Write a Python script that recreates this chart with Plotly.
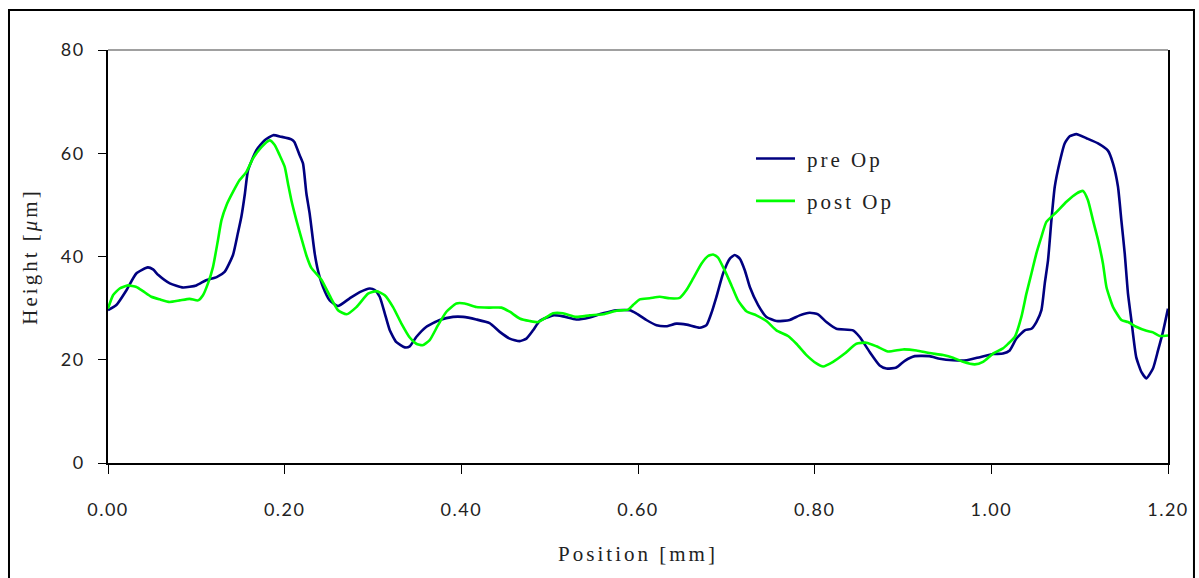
import plotly.graph_objects as go

pre_x = [0.0, 0.0095, 0.021, 0.032, 0.045, 0.051, 0.057, 0.070, 0.085, 0.100, 0.111, 0.123, 0.132,
         0.1415, 0.147, 0.151, 0.155, 0.1585, 0.168, 0.1774, 0.187, 0.196, 0.2076, 0.211, 0.217,
         0.2208, 0.2246, 0.2283, 0.234, 0.2377, 0.2434, 0.251, 0.2604, 0.2736, 0.285, 0.2963, 0.302,
         0.3076, 0.3133, 0.319, 0.3265, 0.336, 0.3416, 0.349, 0.3605, 0.3755, 0.3906, 0.402, 0.417,
         0.432, 0.4435, 0.4548, 0.466, 0.4737, 0.4812, 0.4887, 0.5038, 0.515, 0.530, 0.5453, 0.5604,
         0.5756, 0.5906, 0.598, 0.6095, 0.621, 0.632, 0.6435, 0.655, 0.670, 0.6775, 0.683, 0.6888,
         0.6963, 0.704, 0.7095, 0.7152, 0.721, 0.7266, 0.736, 0.7454, 0.7567, 0.7718, 0.783, 0.7944,
         0.8038, 0.8133, 0.8246, 0.8434, 0.851, 0.8623, 0.8736, 0.8812, 0.8925, 0.902, 0.9133, 0.930,
         0.9416, 0.9566, 0.972, 0.987, 1.002, 1.0132, 1.0208, 1.0284, 1.0378, 1.0454, 1.051, 1.0567,
         1.0605, 1.0642, 1.068, 1.0718, 1.0774, 1.083, 1.0887, 1.0963, 1.1077, 1.1208, 1.132, 1.1378,
         1.1434, 1.1472, 1.151, 1.1547, 1.1585, 1.164, 1.170, 1.1756, 1.183, 1.1887, 1.1943, 1.2]
pre_y = [29.6, 30.6, 33.5, 36.7, 37.9, 37.5, 36.4, 34.8, 34.0, 34.4, 35.4, 36.0, 37.0,
         40.3, 44.5, 47.7, 52.2, 56.7, 60.6, 62.5, 63.5, 63.2, 62.7, 62.2, 59.6,
         58.0, 52.2, 48.3, 40.6, 37.3, 34.1, 31.5, 30.4, 31.9, 33.1, 33.8, 33.5,
         32.2, 29.0, 25.7, 23.4, 22.4, 22.6, 24.4, 26.4, 27.7, 28.3, 28.3, 27.8,
         27.1, 25.4, 24.1, 23.6, 24.1, 25.7, 27.5, 28.6, 28.4, 27.8, 28.2, 29.0,
         29.6, 29.6, 29.0, 27.7, 26.7, 26.5, 27.0, 26.8, 26.2, 26.7, 29.0, 32.2,
         36.7, 39.6, 40.3, 39.6, 37.3, 34.1, 30.6, 28.3, 27.5, 27.7, 28.6, 29.1,
         28.8, 27.3, 26.0, 25.7, 24.4, 21.5, 18.9, 18.3, 18.5, 19.8, 20.7, 20.7,
         20.2, 19.9, 19.9, 20.5, 21.1, 21.2, 21.8, 24.1, 25.7, 26.0, 27.3, 29.6,
         34.8, 39.3, 47.0, 53.5, 58.3, 61.9, 63.3, 63.7, 62.9, 61.9, 60.5, 58.0,
         53.5, 47.0, 40.6, 32.8, 27.7, 20.5, 17.6, 16.4, 18.3, 21.8, 25.4, 29.9]

post_x = [0.0, 0.0057, 0.0132, 0.0226, 0.0322, 0.0396, 0.0491, 0.0585, 0.0698, 0.0812, 0.0925, 0.1019,
          0.1075, 0.1132, 0.1189, 0.1245, 0.1284, 0.134, 0.1415, 0.149, 0.1567, 0.1642, 0.1737, 0.183,
          0.1887, 0.1944, 0.200, 0.2038, 0.2076, 0.2133, 0.219, 0.2246, 0.2302, 0.2416, 0.251, 0.2604,
          0.270, 0.2812, 0.2944, 0.3039, 0.3133, 0.3227, 0.3322, 0.3416, 0.349, 0.356, 0.3642, 0.3736,
          0.3831, 0.3944, 0.4038, 0.417, 0.4321, 0.4454, 0.4548, 0.466, 0.4774, 0.4868, 0.5038, 0.515,
          0.530, 0.5453, 0.5604, 0.5756, 0.5887, 0.5944, 0.602, 0.6133, 0.6246, 0.636, 0.6473, 0.6548,
          0.6623, 0.6718, 0.6793, 0.685, 0.6906, 0.6982, 0.7058, 0.7132, 0.7227, 0.734, 0.7454, 0.7567,
          0.7698, 0.7793, 0.7907, 0.802, 0.8095, 0.8208, 0.834, 0.8472, 0.8586, 0.870, 0.883, 0.900,
          0.9152, 0.930, 0.9453, 0.9566, 0.968, 0.9812, 0.9906, 1.002, 1.0132, 1.019, 1.0265, 1.034,
          1.0397, 1.0454, 1.051, 1.0567, 1.0623, 1.0737, 1.085, 1.0963, 1.1038, 1.1094, 1.1151, 1.1208,
          1.1264, 1.1303, 1.1378, 1.1472, 1.1547, 1.164, 1.1756, 1.183, 1.1906, 1.2]
post_y = [29.9, 32.5, 33.8, 34.4, 34.1, 33.3, 32.2, 31.7, 31.2, 31.5, 31.8, 31.5,
          32.5, 34.8, 38.0, 43.2, 47.0, 49.9, 52.5, 54.8, 56.4, 59.0, 61.2, 62.5,
          61.6, 59.6, 57.4, 54.1, 50.9, 47.0, 43.5, 40.2, 37.8, 35.5, 32.4, 29.6,
          28.8, 30.2, 32.8, 33.3, 32.5, 30.2, 27.0, 24.3, 23.1, 22.8, 23.8, 26.7,
          29.3, 30.9, 30.9, 30.2, 30.1, 30.1, 29.3, 28.0, 27.5, 27.3, 29.0, 29.0,
          28.3, 28.6, 28.8, 29.5, 29.7, 30.6, 31.7, 31.9, 32.2, 31.9, 32.0, 33.5,
          35.7, 38.6, 40.1, 40.4, 39.8, 37.3, 34.4, 31.5, 29.4, 28.6, 27.5, 25.7,
          24.6, 23.1, 20.9, 19.3, 18.7, 19.6, 21.2, 23.1, 23.3, 22.6, 21.6, 22.0,
          21.8, 21.3, 20.9, 20.4, 19.6, 19.1, 19.6, 21.2, 22.2, 23.1, 24.4, 28.3,
          32.8, 36.7, 40.6, 43.8, 46.7, 48.6, 50.6, 52.2, 52.7, 50.9, 47.0, 43.2,
          38.6, 34.1, 30.2, 27.7, 27.3, 26.4, 25.6, 25.3, 24.6, 24.7]

x_ticks = [0.0, 0.2, 0.4, 0.6, 0.8, 1.0, 1.2]
x_tick_labels = ["0.00", "0.20", "0.40", "0.60", "0.80", "1.00", "1.20"]
y_ticks = [0, 20, 40, 60, 80]

serif = "Liberation Serif, DejaVu Serif, serif"
sans = "Lato, Open Sans, sans-serif"

fig = go.Figure()
fig.add_trace(go.Scatter(x=pre_x, y=pre_y, mode="lines", name="pre Op",
                         line=dict(color="#000080", width=2.6, shape="spline", smoothing=0.5),
                         legendgroup="a"))
fig.add_trace(go.Scatter(x=post_x, y=post_y, mode="lines", name="post Op",
                         line=dict(color="#00FF00", width=2.6, shape="spline", smoothing=0.5),
                         legendgroup="b"))

fig.update_layout(
    width=1199, height=578,
    margin=dict(l=108, r=31, t=50, b=115),
    paper_bgcolor="white", plot_bgcolor="white",
    showlegend=True,
    legend=dict(x=0.6066, y=0.786, xanchor="left", yanchor="top",
                font=dict(family=serif, size=21, color="#222"),
                bgcolor="rgba(0,0,0,0)", tracegroupgap=12, itemwidth=39,
                traceorder="grouped"),
    xaxis=dict(range=[0, 1.2], tickvals=x_ticks, ticktext=x_tick_labels,
               showgrid=False, zeroline=False, showline=True, linecolor="black", linewidth=1.5,
               ticks="outside", ticklen=9, tickcolor="black", tickwidth=1.2,
               tickfont=dict(family=sans, size=18, color="#222"), ticklabelstandoff=21,
               title=dict(text="Position [mm]", font=dict(family=serif, size=21, color="#222"),
                          standoff=27)),
    yaxis=dict(range=[0, 80], tickvals=y_ticks,
               showgrid=False, zeroline=False, showline=True, linecolor="black", linewidth=1.5,
               mirror=True,
               ticks="outside", ticklen=8, tickcolor="black", tickwidth=1.2,
               tickfont=dict(family=sans, size=18, color="#222"), ticklabelstandoff=10,
               title=dict(text="Height [<i>μ</i>m]", font=dict(family=serif, size=21, color="#222"),
                          standoff=20)),
)

# top border of plot area (gray)
fig.add_shape(type="line", xref="paper", yref="paper", x0=0, x1=1, y0=1, y1=1,
              line=dict(color="#808080", width=1.5))
# outer chart border
fig.add_shape(type="rect", xref="paper", yref="paper", x0=-0.0934, x1=1.0245, y0=-0.32, y1=1.0969,
              line=dict(color="black", width=2))

# letter spacing like the original chart's typography
post_js = """
var gd = document.getElementById('{plot_id}');
function spacing(){
  gd.querySelectorAll('.legend .scrollbox, .legend').forEach(function(s){s.removeAttribute('clip-path');});
  gd.querySelectorAll('.legendtext').forEach(function(t){
    t.style.letterSpacing='3px';
    if(!t.dataset.shifted){t.setAttribute('x', parseFloat(t.getAttribute('x'))+7); t.dataset.shifted='1';}
  });
  gd.querySelectorAll('.g-xtitle text, .g-ytitle text').forEach(function(t){t.style.letterSpacing='3px';});
  gd.querySelectorAll('.xtick text, .ytick text').forEach(function(t){t.style.letterSpacing='1.5px';});
}
spacing();
gd.on('plotly_afterplot', spacing);
"""

fig.write_html("out.html", post_script=post_js)
